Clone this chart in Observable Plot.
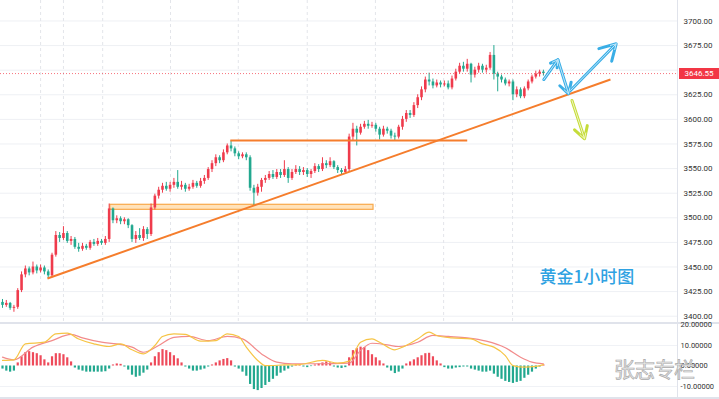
<!DOCTYPE html>
<html><head><meta charset="utf-8">
<script src="https://cdn.jsdelivr.net/npm/d3@7"></script>
<script src="https://cdn.jsdelivr.net/npm/@observablehq/plot@0.6"></script>
<style>
body{margin:0;background:#fff;}
#wrap{position:relative;width:719px;height:399px;overflow:hidden;background:#fff;font-family:Roboto,"Liberation Sans",sans-serif;}
#price svg,#macd svg{display:block;overflow:visible}
#sep{height:2px;background:#e0e3eb;width:719px}
#bottom{height:2px;background:#e0e3eb;width:719px}
#last{position:absolute;left:679px;width:40px;height:11px;background:#f23645;color:#fff;font-size:8px;line-height:11px;text-align:center;font-family:Roboto,sans-serif}
#wm{position:absolute;left:614px;top:358px;font-size:21px;line-height:1;color:#e8e8e8;-webkit-text-stroke:0.7px #ababab;font-family:"Noto Sans CJK SC";letter-spacing:-1px;white-space:nowrap}
</style></head><body>
<div id="wrap">
  <div id="price"></div>
  <div id="sep"></div>
  <div id="macd"></div>
  <div id="bottom"></div>
  <div id="last"></div>
  <div id="wm">张志专栏</div>
</div>
<script>
// ---- price data (1h bars, oldest -> newest) ----
const open = [3414,3411,3413,3408,3409,3426,3442,3448,3444,3450,
3446,3449,3445,3441,3462,3482,3479,3484,3476,3478,
3470,3468,3471,3469,3475,3473,3476,3474,3478,3509,
3497,3499,3496,3498,3492,3478,3482,3479,3488,3483,
3510,3522,3528,3532,3529,3533,3536,3531,3533,3529,
3531,3535,3532,3537,3540,3549,3555,3561,3558,3566,
3573,3570,3565,3562,3564,3561,3530,3525,3531,3538,
3540,3544,3541,3546,3543,3549,3540,3546,3549,3546,
3548,3544,3547,3552,3549,3555,3553,3557,3551,3548,
3546,3549,3582,3590,3586,3592,3595,3593,3594,3590,
3584,3590,3588,3583,3582,3592,3600,3606,3604,3614,
3622,3630,3640,3638,3634,3637,3635,3636,3632,3641,
3648,3654,3651,3656,3645,3650,3654,3650,3652,3665,
3646,3643,3640,3636,3638,3625,3630,3623,3631,3638,
3643,3646,3648];
const close = [3411,3413,3408,3409,3426,3442,3448,3444,3450,3446,
3449,3445,3441,3462,3482,3479,3484,3476,3478,3470,
3468,3471,3469,3475,3473,3476,3474,3478,3509,3497,
3499,3496,3498,3492,3478,3482,3479,3488,3483,3510,
3522,3528,3532,3529,3533,3536,3531,3533,3529,3531,
3535,3532,3537,3540,3549,3555,3561,3558,3566,3573,
3570,3565,3562,3564,3561,3530,3525,3531,3538,3540,
3544,3541,3546,3543,3549,3540,3546,3549,3546,3548,
3544,3547,3552,3549,3555,3553,3557,3551,3548,3546,
3549,3582,3590,3586,3592,3595,3593,3594,3590,3584,
3590,3588,3583,3582,3592,3600,3606,3604,3614,3622,
3630,3640,3638,3634,3637,3635,3636,3632,3641,3648,
3654,3651,3656,3645,3650,3654,3650,3652,3665,3646,
3643,3640,3636,3638,3625,3630,3623,3631,3638,3643,
3646,3648,3646.55];
const high = [3417,3416,3414,3411,3428,3445,3451,3450,3455,3452,
3452,3451,3447,3464,3486,3485,3491,3486,3481,3480,
3474,3474,3473,3477,3478,3479,3478,3481,3514,3510,
3502,3501,3500,3499,3493,3486,3489,3491,3490,3514,
3524,3531,3535,3536,3536,3540,3548,3537,3535,3534,
3538,3537,3540,3543,3551,3558,3564,3563,3569,3575,
3578,3572,3567,3566,3566,3563,3533,3534,3540,3543,
3547,3548,3549,3549,3558,3551,3549,3553,3552,3551,
3550,3549,3555,3554,3561,3558,3561,3558,3553,3550,
3552,3585,3596,3593,3595,3598,3599,3597,3596,3592,
3593,3592,3590,3586,3594,3603,3609,3609,3617,3625,
3633,3643,3647,3641,3640,3639,3639,3639,3644,3651,
3657,3658,3661,3657,3653,3657,3656,3655,3668,3675,
3648,3645,3642,3640,3640,3633,3632,3633,3640,3645,
3649,3650,3650];
const low = [3408,3409,3406,3404,3407,3424,3439,3441,3442,3443,
3444,3442,3438,3439,3460,3475,3477,3474,3472,3468,
3465,3466,3467,3467,3471,3471,3472,3472,3475,3494,
3494,3493,3493,3489,3475,3474,3477,3476,3478,3481,
3508,3519,3525,3527,3526,3530,3529,3528,3526,3527,
3529,3530,3530,3534,3538,3546,3552,3555,3556,3564,
3567,3562,3559,3560,3558,3527,3512,3522,3526,3535,
3538,3539,3539,3540,3541,3535,3538,3544,3543,3543,
3541,3540,3545,3546,3547,3550,3551,3549,3545,3543,
3544,3547,3578,3573,3584,3590,3590,3591,3587,3579,
3582,3585,3580,3578,3580,3589,3597,3601,3602,3611,
3619,3627,3634,3631,3632,3632,3633,3630,3630,3639,
3646,3648,3648,3637,3642,3647,3647,3647,3650,3640,
3628,3637,3634,3633,3619,3622,3621,3621,3629,3636,
3641,3643,3644];

// ---- MACD pane ----
const hist = [-1.5,-2.5,-3,-2.5,1.5,4.5,6.5,7,6.5,6,
5,3,1.5,4.5,6,6,5.5,4,2,-1,
-2,-2.5,-3,-3,-3,-3,-3,-2.8,-1.5,0.5,
1,0.8,-0.5,-2,-4.5,-5.5,-5,-3.5,-2,1.5,
4.5,6.5,8,7.5,6.5,5,3.5,1.5,-0.5,-1.5,
-2.5,-2.5,-2,-1.5,-0.5,0.5,1.5,2.5,3.2,3.6,
2.5,-0.5,-1.5,-3,-5,-9,-11.5,-12,-11,-9.5,
-8,-6.5,-5,-3.5,-2.5,-1.5,-0.5,0.5,0.3,-0.5,
-0.8,-0.3,0.5,1,1.5,2,1.5,-0.5,-1,-1.2,
-0.8,4,7.5,8.5,9.2,9,7.5,5.5,4,2.5,
1,-1,-2.5,-3.7,-3,-1.5,1,2,3,4,
5,6,6.2,4.5,2.5,1,-0.8,-1.5,-1.5,-1,
-0.8,-0.5,-0.5,-1.5,-2,-2.5,-3,-3,-2.5,-4,
-5.5,-6.5,-7.5,-8,-8.5,-8,-7.5,-6,-4.5,-3,
-1.5,-0.5,0.5];
const macdIdx = [0,3,6,11,14,17,20,24,28,31,34,37,40,42,45,48,52,56,59,62,64,67,69,74,78,84,88,91,94,97,99,103,105,109,112,114,118,123,126,129,132,134,137,140,142];
const macdVal = [2.7,3.0,10.8,11.6,15.7,16.0,13.2,10.8,9.5,10.8,7.9,5.9,10.0,14.4,15.7,15.4,12.1,12.4,15.7,14.4,9.2,2.7,0.2,0.5,0.7,2.7,1.4,2.4,11.6,13.2,11.6,7.9,9.2,13.2,16.5,14.9,13.7,13.2,10.8,9.2,5.1,0.2,-0.6,-0.2,0.7];
const signalIdx = [0,3,8,13,18,21,26,30,34,37,41,45,49,54,59,63,68,72,76,83,91,94,97,101,104,109,113,117,122,127,132,136,139,142];
const signalVal = [4.3,3.0,9.2,12.4,15.4,13.7,11.6,10.8,9.2,6.7,10.0,14.0,14.4,12.4,14.4,13.2,5.9,1.9,1.1,1.1,1.4,7.6,11.1,10.3,9.5,11.6,14.9,14.4,13.7,12.1,8.9,4.3,1.9,1.1];

// ---- axes / grid ----
const priceTicks = [3400,3425,3450,3475,3500,3525,3550,3575,3600,3625,3650,3675,3700];
const macdTicks = [20,10,0,-10];
const timeGrid = [10,16,26.3,44.1,61.9,80,97.9,115.8,133.9];

// ---- drawings (bar index, price) ----
const trendLine = {x1:11.8, y1:3438.3, x2:159.6, y2:3640.5};
const resistLine = {x1:59.8, y1:3578.5, x2:122, y2:3578.5};
const supportBox = {x1:28.3, x2:97.4, y1:3508.1, y2:3513.2};
const blueArrows = [
  {x1:142.1, y1:3640.5, x2:145.8, y2:3660.6},
  {x1:145.8, y1:3660.6, x2:148.6, y2:3626.0},
  {x1:149.1, y1:3629.4, x2:161.1, y2:3676.8}
];
const greenArrow = [{x1:149.5, y1:3619.2, x2:152.8, y2:3580.3}];
const chartLabel = [{x:153.4, y:3438.8, t:"黄金1小时图"}];

const UP = "#ef3b4c", DN = "#22a88f";
const XDOM = [-0.525, 177.2];

const bars = close.map((c,i)=>({i, o:open[i], h:high[i], l:low[i], c}));
const upBars = bars.filter(d=>d.c>=d.o), dnBars = bars.filter(d=>d.c<d.o);
const lastPrice = close[close.length-1];

const priceChart = Plot.plot({
  width:719, height:322,
  marginLeft:0, marginRight:42, marginTop:0, marginBottom:0,
  x:{domain:XDOM, axis:null},
  y:{domain:[3393.6,3720.8], axis:null},
  style:{fontFamily:"Roboto, sans-serif", fontSize:"8px", color:"#333", background:"transparent"},
  marks:[
    Plot.ruleY(priceTicks, {stroke:"#eef0f4"}),
    Plot.ruleX(timeGrid, {stroke:"#e3e5ea", strokeDasharray:"3,3"}),
    Plot.rect([supportBox], {x1:"x1", x2:"x2", y1:"y1", y2:"y2", fill:"#ffe2ba", stroke:"#f9a94b", strokeWidth:1.2}),
    Plot.ruleX(upBars, {x:"i", y1:"l", y2:"h", stroke:UP, strokeWidth:1}),
    Plot.ruleX(dnBars, {x:"i", y1:"l", y2:"h", stroke:DN, strokeWidth:1}),
    Plot.ruleX(upBars, {x:"i", y1:"o", y2:"c", stroke:UP, strokeWidth:2.6}),
    Plot.ruleX(dnBars, {x:"i", y1:"o", y2:"c", stroke:DN, strokeWidth:2.6}),
    Plot.link([trendLine], {x1:"x1", y1:"y1", x2:"x2", y2:"y2", stroke:"#f57d2c", strokeWidth:2}),
    Plot.link([resistLine], {x1:"x1", y1:"y1", x2:"x2", y2:"y2", stroke:"#f57d2c", strokeWidth:2}),
    Plot.ruleY([lastPrice], {stroke:"#f23645", strokeDasharray:"1,2", strokeOpacity:0.7}),
    Plot.arrow(blueArrows, {x1:"x1", y1:"y1", x2:"x2", y2:"y2", stroke:"#3aaee6", strokeWidth:3, headLength:9}),
    Plot.arrow(blueArrows, {x1:"x1", y1:"y1", x2:"x2", y2:"y2", stroke:"#c4e8f9", strokeWidth:1, headLength:9}),
    Plot.arrow(greenArrow, {x1:"x1", y1:"y1", x2:"x2", y2:"y2", stroke:"#c5dc3a", strokeWidth:3, headLength:9}),
    Plot.arrow(greenArrow, {x1:"x1", y1:"y1", x2:"x2", y2:"y2", stroke:"#f1f7c4", strokeWidth:1, headLength:9}),
    Plot.text(chartLabel, {x:"x", y:"y", text:"t", fill:"#2fa2e2", fontSize:17, fontWeight:500, stroke:"white", strokeWidth:3, fontFamily:"Noto Sans CJK SC"}),
    Plot.frame({anchor:"right", stroke:"#e0e3eb"}),
    Plot.axisY(priceTicks, {anchor:"right", tickSize:0, tickPadding:6, label:null, tickFormat:d=>d.toFixed(2), fill:"#333", fontSize:8})
  ]
});
document.getElementById("price").append(priceChart);

const macdLine = macdIdx.map((i,k)=>({i, v:macdVal[k]}));
const signalLine = signalIdx.map((i,k)=>({i, v:signalVal[k]}));
const histData = hist.map((v,i)=>({i, v}));

const macdChart = Plot.plot({
  width:719, height:73,
  marginLeft:0, marginRight:42, marginTop:0, marginBottom:0,
  x:{domain:XDOM, axis:null},
  y:{domain:[-15.37,20.24], axis:null},
  style:{fontFamily:"Roboto, sans-serif", fontSize:"7.5px", color:"#333", background:"transparent"},
  marks:[
    Plot.ruleY([-10,10], {stroke:"#f0f2f6"}),
    Plot.ruleX(histData.filter(d=>d.v>=0), {x:"i", y1:0, y2:"v", stroke:"#ee4a5a", strokeWidth:2.2}),
    Plot.ruleX(histData.filter(d=>d.v<0), {x:"i", y1:0, y2:"v", stroke:"#22a88f", strokeWidth:2.2}),
    Plot.line(signalLine, {x:"i", y:"v", stroke:"#f28b8b", strokeWidth:1.2, curve:"monotone-x"}),
    Plot.line(macdLine, {x:"i", y:"v", stroke:"#f6c445", strokeWidth:1.2, curve:"monotone-x"}),
    Plot.frame({anchor:"right", stroke:"#e0e3eb"}),
    Plot.axisY(macdTicks, {anchor:"right", tickSize:0, tickPadding:3, label:null, tickFormat:d=>d.toFixed(5), fill:"#333", fontSize:7.5})
  ]
});
document.getElementById("macd").append(macdChart);

const yPx = priceChart.scale("y").apply(lastPrice);
const lab = document.getElementById("last");
lab.style.top = (yPx - 5.5) + "px";
lab.textContent = lastPrice.toFixed(2);
</script>
</body></html>
